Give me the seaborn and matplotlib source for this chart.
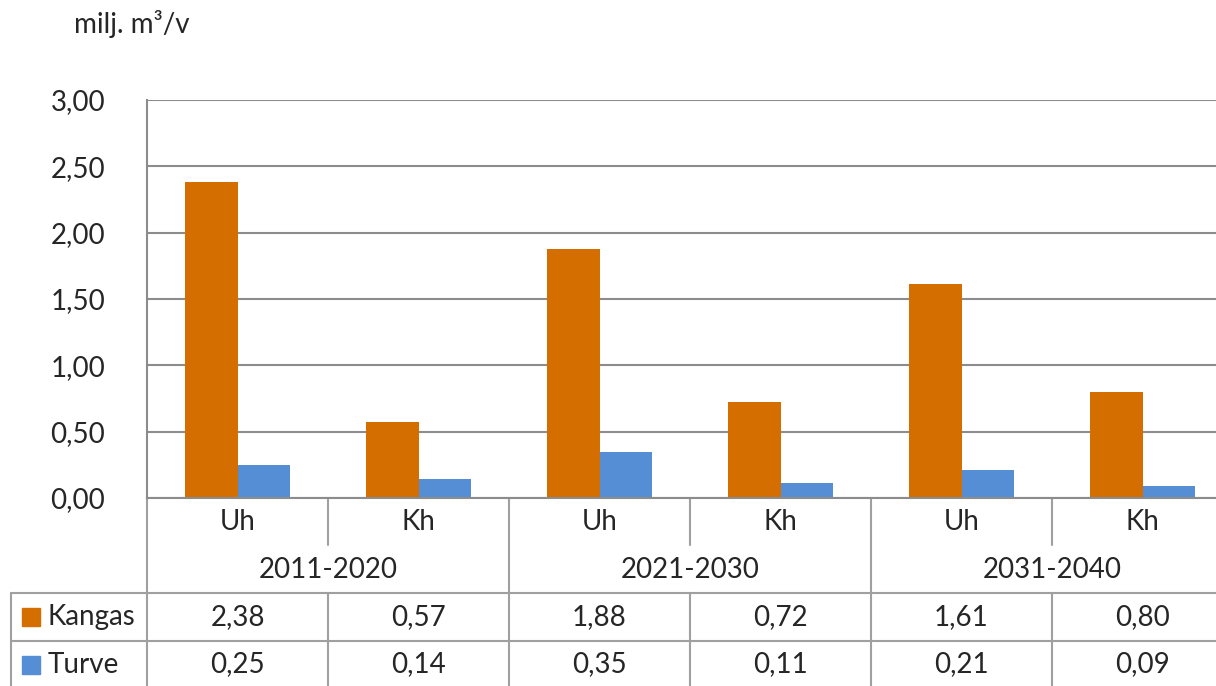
import seaborn as sns
import matplotlib.pyplot as plt
import pandas as pd

# data
periods = ['2011-2020', '2021-2030', '2031-2040']
kinds = ['Uh', 'Kh']
series = ['Kangas', 'Turve']
kangas = [2.38, 0.57, 1.88, 0.72, 1.61, 0.80]
turve = [0.25, 0.14, 0.35, 0.11, 0.21, 0.09]
colors = {'Kangas': '#D46E00', 'Turve': '#558ED5'}

cats = [f'{p} {k}' for p in periods for k in kinds]
df = pd.DataFrame({
    'luokka': cats * 2,
    'sarja': ['Kangas'] * 6 + ['Turve'] * 6,
    'arvo': kangas + turve,
})

sns.set_style('white')
plt.rcParams['font.family'] = ['Lato', 'DejaVu Sans']
fs = 20

W, H = 1216, 686
fig = plt.figure(figsize=(W / 100, H / 100), dpi=100)
# plot area in pixels: left 147, top 100, bottom 498, category width 181
ax = fig.add_axes([147 / W, (H - 498) / H, 6 * 181 / W, 398 / H])

sns.barplot(data=df, x='luokka', y='arvo', hue='sarja', order=cats, hue_order=series,
            palette=colors, saturation=1, width=0.575, gap=0, linewidth=0, ax=ax,
            legend=False)

ax.set_xlim(-0.5, 5.5)
ax.set_ylim(0, 3)
ax.set_yticks([0, 0.5, 1, 1.5, 2, 2.5, 3])
ax.set_yticklabels([f'{v:.2f}'.replace('.', ',') for v in ax.get_yticks()], fontsize=fs)
ax.tick_params(axis='y', length=0, pad=30)
ax.set_xticks([])
ax.set_xlabel('')
ax.set_ylabel('')
ax.yaxis.grid(True, color='#8C8C8C', linewidth=1.5)
ax.set_axisbelow(True)
for s in ['top', 'right']:
    ax.spines[s].set_visible(False)
for s in ['left', 'bottom']:
    ax.spines[s].set_color('#8C8C8C')
    ax.spines[s].set_linewidth(1.5)

fig.text(74 / W, 1 - 24 / H, 'milj. m³/v', fontsize=fs, ha='left', va='center')

# table below the plot, drawn in pixel terms
tcol = '#A0A0A0'
trans = ax.get_xaxis_transform()


def yf(p):
    return (498 - p) / 398


def vline(x, y0, y1):
    ax.plot([x, x], [yf(y0), yf(y1)], color=tcol, lw=1.5, transform=trans, clip_on=False)


# full lines between periods, short ones between Uh and Kh
for x in [-0.5, 1.5, 3.5]:
    vline(x, 498, 700)
for x in [0.5, 2.5, 4.5]:
    vline(x, 498, 545)
    vline(x, 593, 700)

for p in [593, 641]:
    fig.add_artist(plt.Line2D([11 / W, 1], [1 - p / H, 1 - p / H], color=tcol, lw=1.5))
fig.add_artist(plt.Line2D([11 / W, 11 / W], [1 - 593 / H, 0], color=tcol, lw=1.5))

for i, c in enumerate(cats):
    ax.text(i, yf(522), c.split()[1], fontsize=fs, ha='center', va='center', transform=trans)
    ax.text(i, yf(617), f'{kangas[i]:.2f}'.replace('.', ','), fontsize=fs,
            ha='center', va='center', transform=trans)
    ax.text(i, yf(664), f'{turve[i]:.2f}'.replace('.', ','), fontsize=fs,
            ha='center', va='center', transform=trans)
for j, p in enumerate(periods):
    ax.text(2 * j + 0.5, yf(570), p, fontsize=fs, ha='center', va='center', transform=trans)

for name, yc in zip(series, [617, 665]):
    fig.add_artist(plt.Rectangle((22 / W, 1 - (yc + 9) / H), 18 / W, 18 / H,
                                 color=colors[name], transform=fig.transFigure))
    fig.text(48 / W, 1 - yc / H, name, fontsize=fs, ha='left', va='center')

fig.savefig('out.png', dpi=100)
